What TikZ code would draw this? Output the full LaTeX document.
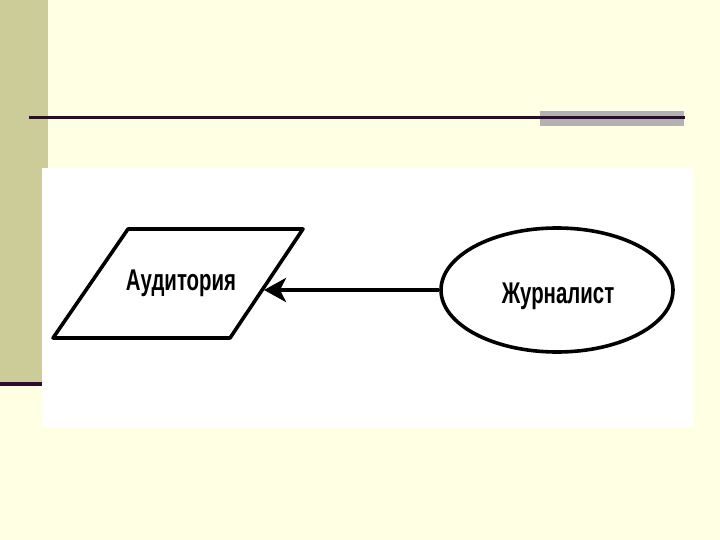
\documentclass[tikz,border=0pt]{standalone}
\usepackage{fontspec}
\newfontfamily\narrowfont[FakeStretch=0.68]{Liberation Sans}
\usetikzlibrary{shapes.geometric,arrows.meta}
\definecolor{bgyellow}{HTML}{FFFFE3}
\definecolor{bandolive}{HTML}{CCCC99}
\definecolor{rulepurple}{HTML}{2E0A2E}
\definecolor{rulegray}{HTML}{B2B2B2}
\tikzset{
  figline/.style={line width=3.6pt, black, line join=round},
  label/.style={font=\narrowfont\bfseries\fontsize{30}{32}\selectfont, inner sep=0pt},
}
\begin{document}
\begin{tikzpicture}[x=1pt,y=-1pt]
\useasboundingbox (0,0) rectangle (720,540);
% background
\fill[bgyellow] (0,0) rectangle (720,540);
\fill[bandolive] (0,0) rectangle (48,383);
\fill[rulepurple] (0,382) rectangle (42,386);
\fill[rulegray] (540,111) rectangle (684,126);
\fill[rulepurple] (29,116) rectangle (685,119);
\fill[white] (42,168) rectangle (694,428);
% parallelogram
\coordinate (p1) at (53,338);
\coordinate (p2) at (128,229);
\coordinate (p3) at (303,229);
\coordinate (p4) at (230,338);
\draw[figline] (p1) -- (p2) -- (p3) -- (p4) -- cycle;
\node[label] (aud) at (181,283) {Аудитория};
\coordinate (audR) at (264,290);
% ellipse
\node[ellipse, figline, draw, minimum width=232pt, minimum height=124pt, inner sep=0pt] (jour) at (557,290) {};
\node[label] (jourtext) at (558,296) {Журналист};
% arrow
\draw[line width=4.5pt, -{Stealth[length=22pt,width=24pt,inset=6pt]}] (jour.west) -- (audR);
\end{tikzpicture}
\end{document}
